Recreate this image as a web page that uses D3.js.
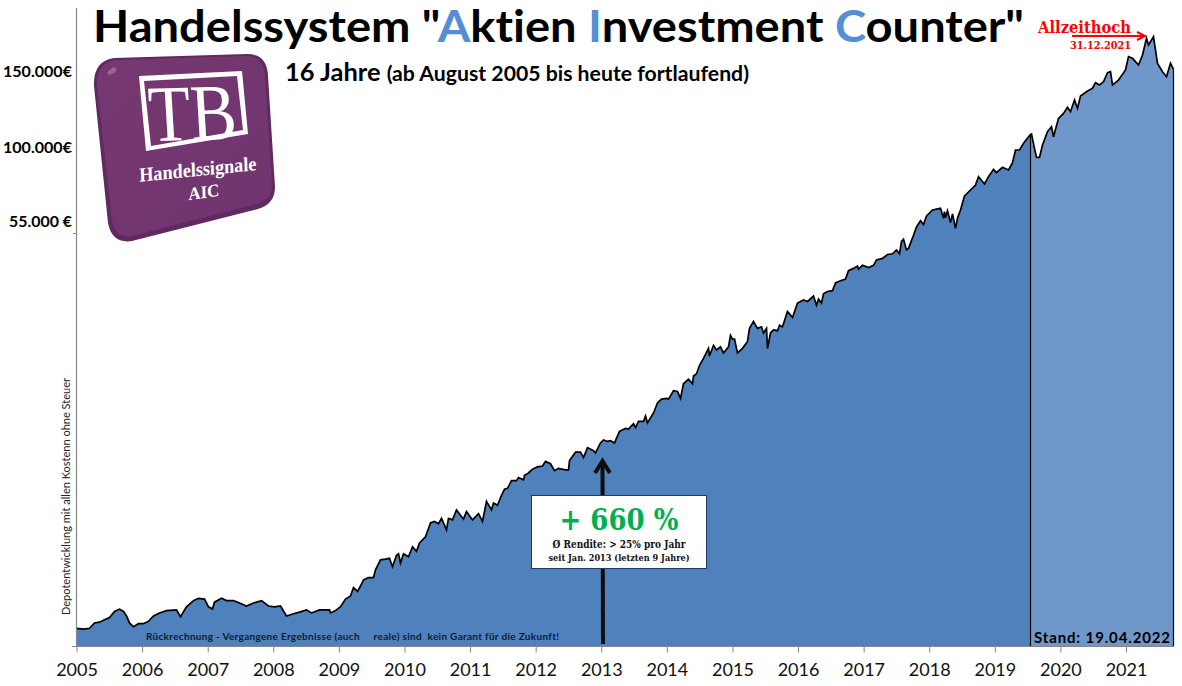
<!DOCTYPE html>
<html><head><meta charset="utf-8">
<style>html,body{margin:0;padding:0;background:#fff}svg{display:block}text{font-variant-ligatures:none}</style>
<script src="https://cdn.jsdelivr.net/npm/d3@7"></script>
</head><body><div id="c"></div>
<script>
// sample position along the time axis (65.6 samples per calendar year on the axis)
const sampleIndex=[0,7,13,18,23,28,33,38,43,47,50,53,57,62,67,72,77,83,90,100,104,110,117,122,128,132,136,138,145,150,157,163,170,177,185,192,198,204,210,217,223,230,235,243,253,254,259,264,269,274,277,281,284,287,292,297,299,304,309,313,316,320,322,324,327,332,336,340,343,349,354,358,362,365,367,370,372,376,380,384,387,390,396,402,406,410,415,417,421,425,428,431,435,440,442,447,448,452,456,461,466,469,474,478,482,489,492,493,499,504,507,511,517,519,524,527,531,534,538,543,549,552,557,559,562,567,569,571,577,581,585,590,592,597,601,604,607,612,616,617,620,623,627,632,633,637,640,644,647,652,654,656,658,661,666,671,673,677,681,685,687,690,691,694,697,701,703,706,711,716,721,727,731,737,740,742,745,747,751,756,759,764,769,772,777,781,782,786,792,797,800,806,811,816,820,823,825,827,830,832,837,840,844,847,850,856,864,867,868,869,871,874,876,879,881,884,888,894,899,902,908,912,917,920,926,932,936,939,943,947,954,955,958,960,963,966,971,975,977,982,987,991,994,998,1001,1004,1011,1016,1019,1023,1027,1031,1034,1036,1042,1049,1052,1056,1062,1066,1070,1072,1077,1081,1086,1090,1094,1097];
// depot value in thousand euro
const depotValue=[2.3,2.2,2.3,3.0,3.1,3.4,3.7,4.5,4.8,4.5,3.9,3.0,2.5,2.9,2.9,3.2,3.9,4.3,4.6,4.7,3.8,5.1,5.9,6.2,6.1,5.1,4.8,5.7,6.2,5.9,5.9,5.6,5.2,5.6,5.9,5.2,5.1,5.2,3.9,4.2,4.4,4.7,4.3,4.7,4.7,4.3,4.6,5.1,6.1,6.5,7.6,7.1,7.8,8.6,8.9,8.9,9.9,11.2,11.3,11.4,10.3,11.8,12.0,10.8,12.0,11.6,12.9,12.3,13.4,14.2,16.0,16.2,15.9,16.6,16.0,15.1,16.6,16.4,17.7,17.0,16.5,17.5,16.4,17.2,16.2,18.8,17.7,18.6,18.3,19.6,20.4,20.5,21.5,21.5,21.9,21.6,22.2,22.5,23.0,23.3,23.4,24.0,23.7,22.8,23.1,22.9,22.9,24.1,25.2,25.2,24.5,25.8,25.4,25.1,26.4,26.8,26.6,26.7,26.4,27.9,28.3,28.2,28.9,28.4,29.2,29.2,29.9,29.0,30.3,31.6,32.1,32.2,32.1,33.2,33.1,32.2,34.1,34.7,34.1,35.1,35.4,36.5,37.4,38.7,37.7,39.1,38.5,38.9,38.1,38.9,40.4,39.9,39.9,38.1,38.7,39.6,41.3,42.2,41.3,41.5,40.7,41.3,38.7,40.7,41.1,41.0,41.7,41.5,43.5,42.7,44.6,45.0,44.8,45.5,44.3,45.1,44.6,45.8,46.1,46.2,47.2,47.5,47.7,48.8,49.1,49.4,49.0,49.5,49.2,49.5,50.2,50.4,50.9,51.0,51.5,51.0,52.6,52.9,51.5,51.7,53.4,54.5,56.4,54.8,59.2,62.8,63.8,57.8,61.8,58.2,62.4,55.2,60.4,54.3,57.8,62.8,71.2,74.8,77.8,82.8,78.4,82.8,87.2,85.2,88.4,86.8,91.2,98.8,98.8,103.1,108.9,109.2,99.8,94.4,94.4,102.0,110.7,114.0,107.4,119.5,122.8,126.8,123.9,131.6,126.1,134.2,137.5,139.3,143.0,141.5,143.6,149.5,150.2,141.5,144.7,151.3,160.1,159.0,154.6,161.2,172.2,167.8,173.2,155.7,150.2,146.9,155.7,151.7];
const years=d3.range(2005,2022);
const valueTicks=[55,100,150];
const valueLabels=["55.000 €","100.000€","150.000€"];
const liveStart=954;

const W=1182,H=686;
const svg=d3.select("#c").append("svg").attr("width",W).attr("height",H);
const x=d3.scaleLinear().domain([0,1097]).range([76.5,1173.5]);
const xYear=d3.scaleLinear().domain([2005,2021]).range([76.5,1126]);
const y=d3.scaleLinear().domain([0,55,100,150]).range([646,223,148,72]);
const pts=sampleIndex.map((s,i)=>({s,v:depotValue[i]}));
const area=d3.area().x(d=>x(d.s)).y0(y(0)).y1(d=>y(d.v));
const line=d3.line().x(d=>x(d.s)).y(d=>y(d.v));
const SANS="Lato, 'Noto Sans', sans-serif", SERIF="'DejaVu Serif','Liberation Serif',serif";

svg.append("path").attr("d",area(pts.filter(d=>d.s<=liveStart))).attr("fill","#4f81bd");
svg.append("path").attr("d",area(pts.filter(d=>d.s>=liveStart))).attr("fill","#6f97c9");
svg.append("path").attr("d",line(pts)).attr("fill","none").attr("stroke","#000").attr("stroke-width",1.7).attr("stroke-linejoin","miter");
const lastPt=pts[pts.length-1], splitPt=pts.find(d=>d.s===liveStart);
[splitPt,lastPt].forEach(d=>svg.append("line").attr("x1",x(d.s)).attr("x2",x(d.s)).attr("y1",y(d.v)).attr("y2",y(0)).attr("stroke","#000").attr("stroke-width",1.2));

// axes
const ax=svg.append("g").attr("transform",`translate(0,${y(0)+0.5})`).call(d3.axisBottom(xYear).tickValues(years).tickFormat(d3.format("d")).tickSize(6).tickPadding(11));
ax.select(".domain").remove();
ax.append("line").attr("x1",76).attr("x2",1174).attr("stroke","#868686").attr("stroke-width",1.2);
ax.selectAll(".tick line").attr("stroke","#868686");
ax.selectAll("text").attr("font-family",SANS).attr("font-size",18).attr("fill","#111");
const ay=svg.append("g");
ay.append("line").attr("x1",76.5).attr("x2",76.5).attr("y1",8).attr("y2",646).attr("stroke","#868686").attr("stroke-width",1.2);
ay.append("line").attr("x1",72).attr("x2",76).attr("y1",646.5).attr("y2",646.5).attr("stroke","#868686");
ay.append("line").attr("x1",73).attr("x2",76).attr("y1",233.5).attr("y2",233.5).attr("stroke","#868686");
ay.selectAll("text.v").data(valueTicks).join("text").attr("class","v")
  .attr("x",3).attr("y",d=>y(d)+(d===55?4:5)).attr("dx",d=>d===55?6:0)
  .attr("font-family",SANS).attr("font-weight",700).attr("font-size",15).attr("fill","#000")
  .attr("textLength",d=>d===55?63:69).attr("lengthAdjust","spacingAndGlyphs")
  .text((d,i)=>valueLabels[i]);
svg.append("text").attr("transform","translate(70,615) rotate(-90)").attr("font-family",SANS).attr("font-size",10.8).attr("textLength",237).attr("lengthAdjust","spacingAndGlyphs").attr("fill","#222").text("Depotentwicklung mit allen Kostenn ohne Steuer");

// title
const t=svg.append("text").attr("x",93).attr("y",42).attr("font-family",SANS).attr("font-weight",700).attr("font-size",43).attr("textLength",931).attr("lengthAdjust","spacingAndGlyphs").attr("fill","#000");
[["Handelssystem \"",0],["A",1],["ktien ",0],["I",1],["nvestment ",0],["C",1],["ounter\"",0]].forEach(p=>t.append("tspan").attr("fill",p[1]?"#558ed5":"#000").text(p[0]));
const st=svg.append("text").attr("x",285).attr("y",81).attr("font-family",SANS).attr("font-weight",700).attr("fill","#000").attr("textLength",464).attr("lengthAdjust","spacingAndGlyphs");
st.append("tspan").attr("font-size",24).text("16 Jahre ");
st.append("tspan").attr("font-size",20).text("(ab August 2005 bis heute fortlaufend)");

// logo
const logo=svg.append("g");
const defs=svg.append("defs");
const g=defs.append("linearGradient").attr("id","lg").attr("x1","0").attr("y1","0").attr("x2","1").attr("y2","1");
g.append("stop").attr("offset","0").attr("stop-color","#76386f");
g.append("stop").attr("offset","1").attr("stop-color","#6f3470");
const body="M114,57 L247,53 Q267,53 268,75 L275,186 Q275,203 258,208 L132,240 Q112,243 108,222 L94,85 Q93,60 114,57 Z";
logo.append("path").attr("d",body).attr("fill","#5f2a60").attr("transform","translate(0,1)");
logo.append("path").attr("d","M116,60 L246,56 Q264,56 265,76 L272,185 Q272,200 256,204 L132,236 Q115,238 112,220 L97,86 Q96,63 116,60 Z").attr("fill","url(#lg)");
logo.append("ellipse").attr("cx",112).attr("cy",71).attr("rx",5).attr("ry",2.5).attr("transform","rotate(-35 112 71)").attr("fill","#a877a6").attr("opacity",.7);
logo.append("path").attr("fill","#fff").attr("fill-rule","evenodd")
  .attr("d","M139,76 L242,71 L248,134 L146,151 Z M144,81 L237,76 L243,130 L151,146 Z");
const lt=(m,txt,fs,tl)=>logo.append("text").attr("transform",m).attr("font-family","'Liberation Serif',serif").attr("fill","#fff").attr("font-size",fs).attr("textLength",tl).attr("lengthAdjust","spacingAndGlyphs").attr("text-anchor","middle").text(txt);
lt("matrix(1,-0.03,0.06,1,194,140)","TB",80,88);
lt("matrix(1,-0.1,0.03,1,198,176)","Handelssignale",20,117).attr("font-weight",700);
lt("matrix(1,-0.14,0.03,1,204,198)","AIC",18,31).attr("font-weight",700);

// annotation
const ah=svg.append("g").attr("fill","none").attr("stroke","#0d0d0d");
ah.append("path").attr("d","M603,644 L602.5,465").attr("stroke-width",4);
ah.append("path").attr("d","M595,473 L602.5,461 L610,473").attr("stroke-width",4);
svg.append("rect").attr("x",531.5).attr("y",495.5).attr("width",175).attr("height",73).attr("fill","#fff").attr("stroke","#1f3864").attr("stroke-width",1);
const ct=(yy,txt,fs,col,tl)=>svg.append("text").attr("x",619).attr("y",yy).attr("text-anchor","middle").attr("font-family",SERIF).attr("font-weight",700).attr("font-size",fs).attr("fill",col).attr("textLength",tl).attr("lengthAdjust","spacingAndGlyphs").text(txt);
ct(530,"+ 660 %",30,"#00b050",119);
ct(548,"Ø Rendite: > 25% pro Jahr",11,"#111",133);
ct(561,"seit Jan. 2013 (letzten 9 Jahre)",10,"#111",141);

svg.append("text").attr("x",146).attr("y",640).attr("font-family",SANS).attr("font-weight",700).attr("font-size",10).attr("fill","#0c1c33").attr("textLength",413).attr("lengthAdjust","spacing").attr("xml:space","preserve").style("white-space","pre").text("Rückrechnung - Vergangene Ergebnisse (auch     reale) sind  kein Garant für die Zukunft!");
svg.append("text").attr("x",1034).attr("y",643).attr("font-family",SANS).attr("font-weight",700).attr("font-size",15).attr("fill","#000").attr("textLength",136).attr("lengthAdjust","spacing").text("Stand: 19.04.2022");

// all-time high
svg.append("text").attr("x",1038).attr("y",33).attr("font-family",SERIF).attr("font-weight",700).attr("font-size",17).attr("fill","#ff0000").attr("textLength",93).attr("lengthAdjust","spacingAndGlyphs").text("Allzeithoch");
svg.append("text").attr("x",1070).attr("y",49).attr("font-family",SERIF).attr("font-weight",700).attr("font-size",11.5).attr("fill","#ff0000").attr("textLength",61).attr("lengthAdjust","spacingAndGlyphs").text("31.12.2021");
svg.append("path").attr("d","M1072,36 L1144,36 M1137,32 L1145,36 L1137,40").attr("fill","none").attr("stroke","#ff0000").attr("stroke-width",2);
</script></body></html>
